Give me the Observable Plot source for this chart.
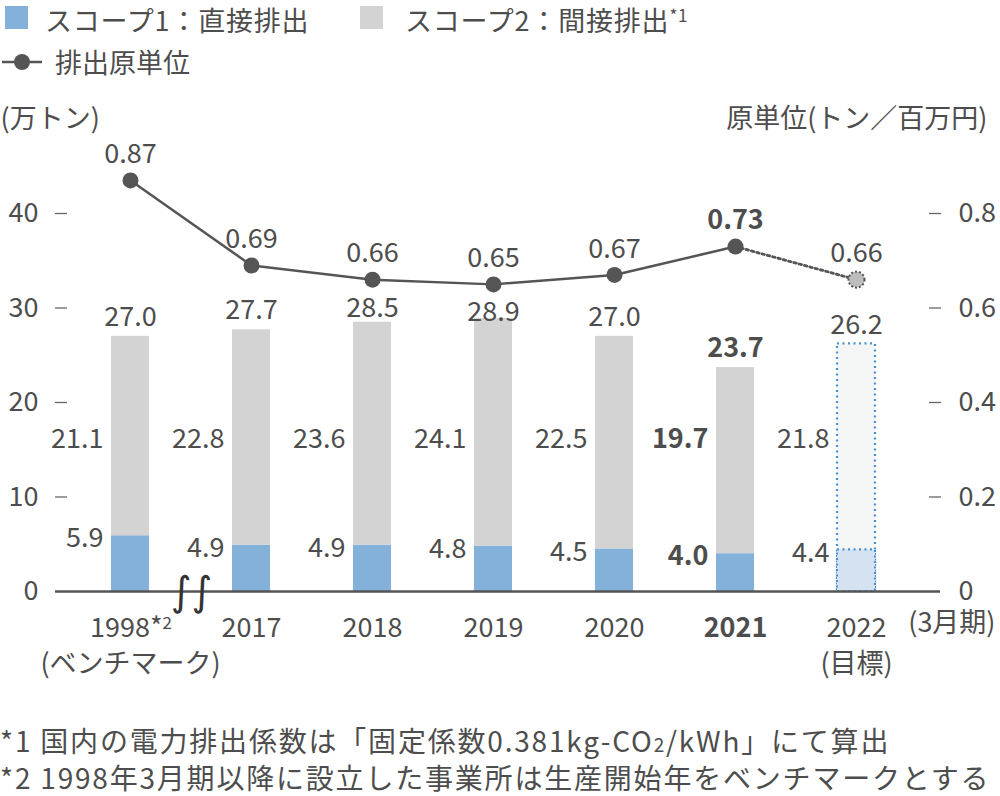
<!DOCTYPE html>
<html><head><meta charset="utf-8">
<script src="https://cdn.jsdelivr.net/npm/d3@7"></script>
<script src="https://cdn.jsdelivr.net/npm/@observablehq/plot@0.6"></script>
<style>
html,body{margin:0;padding:0;background:#fff}
body{width:1000px;height:796px;position:relative;overflow:hidden;font-family:"Noto Sans CJK JP","Noto Sans",sans-serif;color:#4d4d4d}
.t{position:absolute;font-size:27px;line-height:30px;white-space:nowrap}
.top{line-height:39px;top:0px}
.fn{position:absolute;font-size:28px;line-height:32px;letter-spacing:1.8px;white-space:nowrap}
.sw{position:absolute;width:23px;height:23px}
#chart{position:absolute;left:0;top:85px}
.sup{font-size:17px;position:relative;top:-9px}
</style></head>
<body>
<div class="sw" style="left:5px;top:6px;background:#84b1da"></div>
<div class="t top" style="left:45px;letter-spacing:0.8px">スコープ1：直接排出</div>
<div class="sw" style="left:360px;top:6px;background:#d3d3d3"></div>
<div class="t top" style="left:405px;letter-spacing:0.8px">スコープ2：間接排出<span class="sup">*1</span></div>
<svg style="position:absolute;left:2px;top:52px" width="42" height="20"><line x1="0" y1="10" x2="40" y2="10" stroke="#555" stroke-width="2.5"/><circle cx="20" cy="10" r="8" fill="#555"/></svg>
<div class="t" style="left:55px;top:47px">排出原単位</div>
<div id="chart"></div>
<div class="fn" style="left:0px;top:724px">*1 国内の電力排出係数は「固定係数0.381kg-CO<span style="font-size:19px">2</span>/kWh」にて算出</div>
<div class="fn" style="left:0px;top:761px">*2 1998年3月期以降に設立した事業所は生産開始年をベンチマークとする</div>
<script>
const years = ["1998","2017","2018","2019","2020","2021","2022"];
const yearLabels = ["1998*","2017","2018","2019","2020","2021","2022"];
const subLabels = ["(ベンチマーク)","","","","","","(目標)"];
const scope1 = [5.9,4.9,4.9,4.8,4.5,4.0,4.4];
const scope2 = [21.1,22.8,23.6,24.1,22.5,19.7,21.8];
const totals = [27.0,27.7,28.5,28.9,27.0,23.7,26.2];
const intensity = [0.87,0.69,0.66,0.65,0.67,0.73,0.66];
const leftTicks = [0,10,20,30,40];
const rightTicks = [0,0.2,0.4,0.6,0.8];
const highlightYear = "2021";
const targetYear = "2022";

const ratio = 40 / 0.8; // right axis 0.8 aligns with left 40
const rows = years.map((y,i)=>({
  year:y, label:yearLabels[i], sub:subLabels[i],
  s1:scope1[i], s2:scope2[i], total:totals[i],
  inten:intensity[i], iy:intensity[i]*ratio,
  bold: y===highlightYear, target: y===targetYear
}));
rows.forEach(d=>{ d.ty = Math.min(d.total + 2, d.iy - 3); });
const actual = rows.filter(d=>!d.target);
const target = rows.filter(d=>d.target);
const lastTwo = rows.filter(d=>d.year===highlightYear || d.target);
const ink = "#4d4d4d";
const FS = 27;
const breakAt = years.slice(0,1);

const chart = Plot.plot({
  width:1000, height:605,
  marginLeft:55, marginRight:60, marginTop:128, marginBottom:99,
  style:{fontFamily:'"Noto Sans CJK JP","Noto Sans",sans-serif', fontSize:FS+"px", color:ink, background:"transparent", overflow:"visible"},
  x:{type:"band", domain:years, range:[69.5,916.5], paddingInner:0.69, paddingOuter:0.345, axis:null},
  y:{domain:[0,40]},
  marks:[
    Plot.axisY({ticks:leftTicks, tickSize:0, tickPadding:17, fontSize:FS, fill:ink}),
    Plot.axisY({anchor:"right", ticks:rightTicks.map(v=>v*ratio), tickSize:0, tickPadding:18, fontSize:FS, fill:ink,
      tickFormat:d=>{const v=d/ratio; return v===0?"0":v.toFixed(1);}}),
    Plot.axisY({ticks:leftTicks.filter(d=>d>0), tickSize:-12, tickFormat:()=>"", stroke:"#666", strokeWidth:1.3}),
    Plot.axisY({anchor:"right", ticks:leftTicks.filter(d=>d>0), tickSize:-12, tickFormat:()=>"", stroke:"#666", strokeWidth:1.3}),
    // actual bars
    Plot.barY(actual,{x:"year", y1:0, y2:"s1", fill:"#84b1da"}),
    Plot.barY(actual,{x:"year", y1:"s1", y2:"total", fill:"#d3d3d3"}),
    // target bar
    Plot.barY(target,{x:"year", y1:0, y2:"total", fill:"#f4f5f5", stroke:"#4a90d2", strokeWidth:2.2, strokeDasharray:"2 3.5"}),
    Plot.barY(target,{x:"year", y1:0, y2:"s1", fill:"#d4e2f2", stroke:"#4a90d2", strokeWidth:2.2, strokeDasharray:"2 3.5"}),
    Plot.ruleY([0],{stroke:"#555", strokeWidth:2.5}),
    // axis break mark (two vertical waves)
    Plot.text(breakAt,{x:d=>d, y:0, dx:61, dy:1, text:()=>"∫∫", fontFamily:"DejaVu Sans", fontSize:40, letterSpacing:"2px", fill:"#333"}),
    // intensity line
    Plot.line(actual,{x:"year", y:"iy", stroke:"#555", strokeWidth:2.5}),
    Plot.line(lastTwo,{x:"year", y:"iy", stroke:"#555", strokeWidth:2.8, strokeDasharray:"2.5 3"}),
    Plot.dot(actual,{x:"year", y:"iy", r:8, fill:"#555"}),
    Plot.dot(target,{x:"year", y:"iy", r:8, fill:"#bdbdbd", stroke:"#555", strokeWidth:2, strokeDasharray:"2 2"}),
    // intensity labels
    Plot.text(rows.filter(d=>!d.bold),{x:"year", y:"iy", dy:-26, text:d=>d.inten.toFixed(2), fill:ink, fontSize:FS}),
    Plot.text(rows.filter(d=>d.bold),{x:"year", y:"iy", dy:-26, text:d=>d.inten.toFixed(2), fill:ink, fontSize:FS, fontWeight:"bold"}),
    // totals
    Plot.text(rows.filter(d=>!d.bold),{x:"year", y:"ty", text:d=>d.total.toFixed(1), fill:ink, fontSize:FS}),
    Plot.text(rows.filter(d=>d.bold),{x:"year", y:"ty", text:d=>d.total.toFixed(1), fill:ink, fontSize:FS, fontWeight:"bold"}),
    // scope2 labels
    Plot.text(rows.filter(d=>!d.bold),{x:"year", y:()=>16.1, dx:-27, textAnchor:"end", text:d=>d.s2.toFixed(1), fill:ink, fontSize:FS}),
    Plot.text(rows.filter(d=>d.bold),{x:"year", y:()=>16.1, dx:-27, textAnchor:"end", text:d=>d.s2.toFixed(1), fill:ink, fontSize:FS, fontWeight:"bold"}),
    // scope1 labels
    Plot.text(rows.filter(d=>!d.bold),{x:"year", y:"s1", dy:3, dx:-27, textAnchor:"end", text:d=>d.s1.toFixed(1), fill:ink, fontSize:FS}),
    Plot.text(rows.filter(d=>d.bold),{x:"year", y:"s1", dy:3, dx:-27, textAnchor:"end", text:d=>d.s1.toFixed(1), fill:ink, fontSize:FS, fontWeight:"bold"}),
    // x labels
    Plot.text(rows.filter(d=>!d.bold && d.year!=="1998"),{x:"year", y:0, dy:37, text:"label", fill:ink, fontSize:FS}),
    Plot.text(rows.filter(d=>d.bold),{x:"year", y:0, dy:37, text:"label", fill:ink, fontSize:FS, fontWeight:"bold"}),
    Plot.text(rows.filter(d=>d.year==="1998"),{x:"year", y:0, dy:37, dx:32, textAnchor:"end", text:"label", fill:ink, fontSize:FS}),
    Plot.text(rows.filter(d=>d.year==="1998"),{x:"year", y:0, dy:32, dx:32, textAnchor:"start", text:()=>"2", fill:ink, fontSize:17}),
    Plot.text(rows.filter(d=>d.sub),{x:"year", y:0, dy:73, text:"sub", fill:ink, fontSize:FS}),
    // axis titles
    Plot.text(["(3月期)"],{frameAnchor:"bottom-right", textAnchor:"end", dx:55, dy:40, fill:ink, fontSize:FS}),
    Plot.text(["(万トン)"],{frameAnchor:"top-left", textAnchor:"start", dx:-55, dy:-105, fill:ink, fontSize:FS}),
    Plot.text(["原単位(トン／百万円)"],{frameAnchor:"top-right", textAnchor:"end", dx:47, dy:-105, fill:ink, fontSize:FS})
  ]
});
document.getElementById("chart").appendChild(chart);
</script>
</body></html>
